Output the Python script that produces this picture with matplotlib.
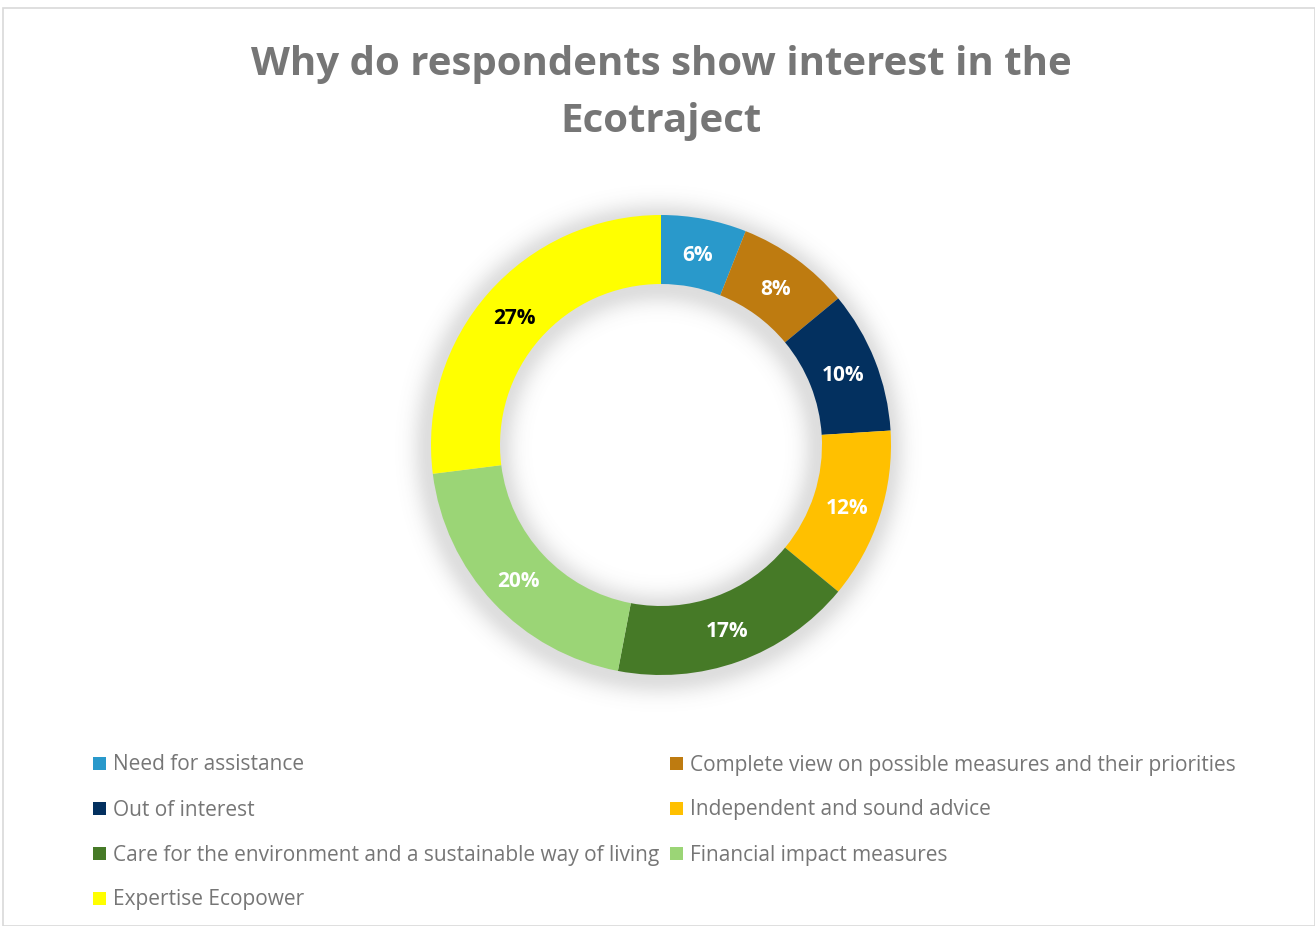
import numpy as np
import matplotlib
matplotlib.use("Agg")
import matplotlib.pyplot as plt
from matplotlib.patches import Rectangle

categories = ["Need for assistance",
              "Complete view on possible measures and their priorities",
              "Out of interest",
              "Independent and sound advice",
              "Care for the environment and a sustainable way of living",
              "Financial impact measures",
              "Expertise Ecopower"]
values = [6, 8, 10, 12, 17, 20, 27]
colors = ["#2999CB", "#BE7B10", "#03305F", "#FFC000", "#467A27", "#9BD576", "#FFFF00"]
label_colors = ["white", "white", "white", "white", "white", "white", "black"]
title = "Why do respondents show interest in the\nEcotraject"

W, H = 1315, 926
fig = plt.figure(figsize=(W / 100, H / 100), dpi=100)
fig.patch.set_facecolor("white")

# border
fig.add_artist(Rectangle((3 / W, 0), (W - 3) / W, 1 - 8 / H, transform=fig.transFigure,
                         fill=False, edgecolor="#D9D9D9", linewidth=1.2))

cx, cy, R = 661, 445, 230
span = 1.3
ax = fig.add_axes([(cx - span * R) / W, 1 - (cy + span * R) / H, 2 * span * R / W, 2 * span * R / H])

width = 0.3
ri, ro = 1 - width, 1.0
# soft shadow
n = 500
xs = np.linspace(-span, span, n)
X, Y = np.meshgrid(xs, xs)
r = np.hypot(X + 0.01, Y + 0.015)
d = np.where(r > ro, r - ro, np.where(r < ri, ri - r, 0))
alpha = 0.2 * np.exp(-(d / 0.075) ** 2)
img = np.zeros((n, n, 4))
img[..., 0:3] = 0.35
img[..., 3] = alpha
ax.imshow(img, extent=(-span, span, -span, span), origin="lower", zorder=0, interpolation="bilinear")

wedges, _ = ax.pie(values, colors=colors, startangle=90, counterclock=False, radius=1,
                   wedgeprops=dict(width=width, edgecolor="none"))
for w in wedges:
    w.set_zorder(2)
ax.set_xlim(-span, span)
ax.set_ylim(-span, span)
ax.set_aspect("equal")
ax.axis("off")

total = sum(values)
ang = 90.0
for v, lc in zip(values, label_colors):
    a = ang - v / total * 360 / 2
    ang -= v / total * 360
    rr = 1 - width / 2
    ax.text(rr * np.cos(np.radians(a)), rr * np.sin(np.radians(a)) - 0.012, f"{v}%",
            ha="center", va="center", color=lc, fontsize=15, fontweight="bold",
            family="Open Sans", zorder=3)

fig.text(661 / W, 1 - 93 / H, title, ha="center", va="center", fontsize=29,
         fontweight="bold", color="#767676", family="Open Sans", linespacing=1.6)

# legend (row-major, two columns)
col_x = [93, 670]
row_y = [763, 808, 853, 898]
sq = 13
for i, (lab, c) in enumerate(zip(categories, colors)):
    x = col_x[i % 2]
    y = row_y[i // 2]
    fig.add_artist(Rectangle((x / W, 1 - (y + sq / 2) / H), sq / W, sq / H,
                             transform=fig.transFigure, facecolor=c, edgecolor="none"))
    fig.text((x + 20) / W, 1 - (y + 2) / H, lab, ha="left", va="center", fontsize=15,
             color="#767676", family="Open Sans")

fig.savefig("out.png", dpi=100, facecolor="white")
